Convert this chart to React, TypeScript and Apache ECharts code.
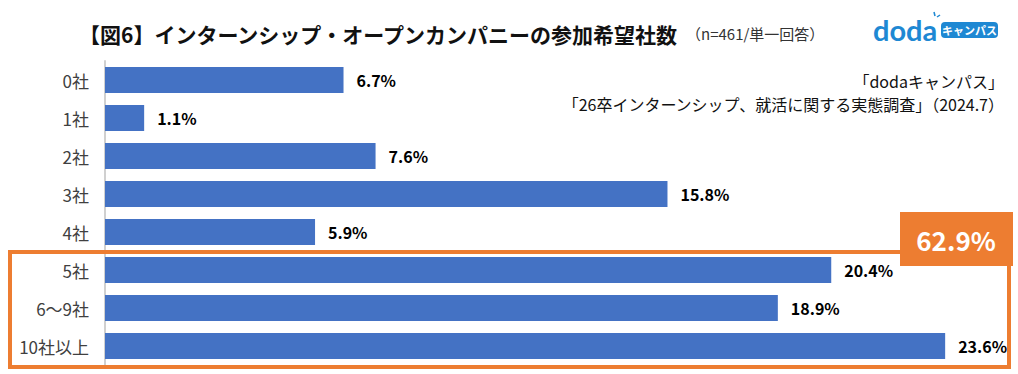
import React, { useEffect, useRef } from "react";
import * as echarts from "echarts";

const categories = ["0社", "1社", "2社", "3社", "4社", "5社", "6～9社", "10社以上"];
const values = [6.7, 1.1, 7.6, 15.8, 5.9, 20.4, 18.9, 23.6];
const titleMain = "【図6】インターンシップ・オープンカンパニーの参加希望社数";
const titleSub = "（n=461/単一回答）";
const sourceLines = ["「dodaキャンパス」", "「26卒インターンシップ、就活に関する実態調査」（2024.7）"];
const highlightTotal = "62.9%";

const FONT = "'Noto Sans CJK JP', 'Noto Sans', sans-serif";

export default function App() {
  const ref = useRef<HTMLDivElement>(null);
  useEffect(() => {
    if (!ref.current) return;
    const chart = echarts.init(ref.current, null, { renderer: "svg" });
    chart.setOption({
      animation: false,
      backgroundColor: "#ffffff",
      grid: { left: 105, right: 23, top: 61, bottom: 9, containLabel: false },
      xAxis: { type: "value", min: 0, max: 25, show: false },
      yAxis: {
        type: "category",
        data: categories,
        inverse: true,
        axisLine: { show: true, lineStyle: { color: "#D0D0D0", width: 2 } },
        axisTick: { show: false },
        axisLabel: { color: "#404040", fontSize: 17, fontFamily: FONT, margin: 16 },
      },
      series: [
        {
          type: "bar",
          data: values,
          barCategoryGap: "31%",
          itemStyle: { color: "#4472C4" },
          label: {
            show: true,
            position: "right",
            distance: 13,
            formatter: (p: any) => p.value.toFixed(1) + "%",
            color: "#000",
            fontWeight: "bold",
            fontSize: 16,
            fontFamily: FONT,
          },
        },
      ],
      graphic: [
        {
          type: "text",
          left: 79,
          top: 23,
          style: { text: titleMain, fontSize: 21, fontWeight: "bold", fill: "#111", fontFamily: FONT },
        },
        {
          type: "text",
          left: 686,
          top: 26,
          style: { text: titleSub, fontSize: 15, fill: "#333", fontFamily: FONT },
        },
        {
          type: "text",
          x: 873,
          y: 29,
          style: { text: "doda", fontSize: 29, fontWeight: "bold", fill: "#1E88D3", fontFamily: "Lato", verticalAlign: "middle" },
        },
        { type: "line", shape: { x1: 934, y1: 12, x2: 935, y2: 16 }, style: { stroke: "#1E88D3", lineWidth: 1.5 } },
        { type: "line", shape: { x1: 937, y1: 17, x2: 940, y2: 15 }, style: { stroke: "#1E88D3", lineWidth: 1.5 } },
        { type: "rect", shape: { x: 941, y: 22, width: 57, height: 16, r: 4 }, style: { fill: "#1E88D3" } },
        {
          type: "text",
          x: 969.5,
          y: 30,
          style: { text: "キャンパス", fontSize: 11, fontWeight: "bold", fill: "#fff", fontFamily: FONT, align: "center", verticalAlign: "middle" },
        },
        {
          type: "text",
          x: 1004,
          y: 81,
          style: { text: sourceLines[0], fontSize: 16, lineHeight: 18, fill: "#111", fontFamily: FONT, align: "right", verticalAlign: "middle" },
        },
        {
          type: "text",
          x: 1004,
          y: 104,
          style: { text: sourceLines[1], fontSize: 16, lineHeight: 18, fill: "#111", fontFamily: FONT, align: "right", verticalAlign: "middle" },
        },
        {
          type: "rect",
          shape: { x: 10, y: 252, width: 999, height: 115 },
          style: { fill: "none", stroke: "#ED7D31", lineWidth: 4 },
          z: 10,
        },
        {
          type: "rect",
          shape: { x: 900, y: 212, width: 113, height: 54 },
          style: { fill: "#ED7D31" },
          z: 11,
        },
        {
          type: "text",
          x: 956,
          y: 239,
          z: 12,
          style: { text: highlightTotal, fontSize: 26, fontWeight: "bold", fill: "#fff", fontFamily: FONT, align: "center", verticalAlign: "middle" },
        },
      ],
    });
    return () => chart.dispose();
  }, []);
  return <div ref={ref} style={{ position: "fixed", left: 0, top: 0, width: 1018, height: 374 }} />;
}
